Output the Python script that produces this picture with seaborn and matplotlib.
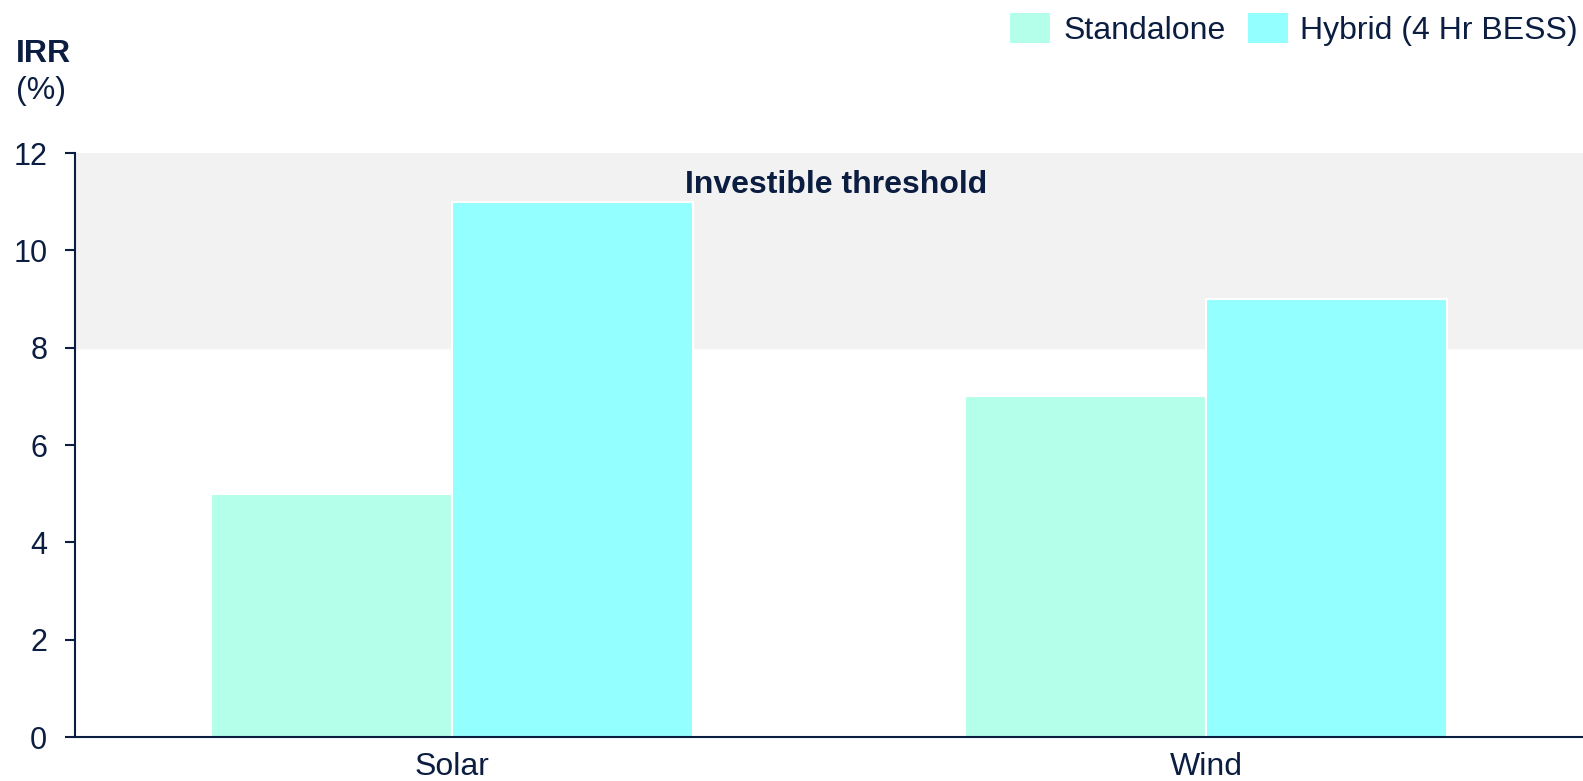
import matplotlib
matplotlib.use("Agg")
import matplotlib.pyplot as plt
import seaborn as sns
import pandas as pd
from matplotlib.patches import Patch

categories = ["Solar", "Wind"]
series = ["Standalone", "Hybrid (4 Hr BESS)"]
standalone = [5, 7]
hybrid = [11, 9]
threshold_low, threshold_high = 8, 12
yticks = [0, 2, 4, 6, 8, 10, 12]

colors = ["#b3ffe9", "#94ffff"]
navy = "#0b1d40"
fs = 23

df = pd.DataFrame({
    "Technology": categories * 2,
    "Scenario": [series[0]] * len(categories) + [series[1]] * len(categories),
    "IRR": standalone + hybrid,
})

sns.set_theme(style="white")
plt.rcParams["font.family"] = ["Liberation Sans", "DejaVu Sans"]

fig = plt.figure(figsize=(15.83, 7.81), dpi=100)
ax = fig.add_axes([0.0474, 0.0563, 0.9526, 0.7477])

ax.axhspan(threshold_low, threshold_high, color="#f2f2f2", zorder=0)
sns.barplot(data=df, x="Technology", y="IRR", hue="Scenario", palette=colors,
            width=0.64, edgecolor="white", linewidth=1.5, ax=ax, zorder=2,
            legend=False, saturation=1)

ax.set_xlim(-0.5, 1.5)
ax.set_ylim(0, 12)
ax.set_yticks(yticks)
ax.set_xlabel("")
ax.set_ylabel("")
for s in ["top", "right"]:
    ax.spines[s].set_visible(False)
for s in ["left", "bottom"]:
    ax.spines[s].set_color(navy)
    ax.spines[s].set_linewidth(1.5)
ax.tick_params(axis="y", length=7, width=1.5, color=navy, labelsize=22,
               labelcolor=navy, pad=13, left=True)
ax.tick_params(axis="x", length=0, labelsize=fs, labelcolor=navy, pad=11)

ax.text(0.51, 11.35, "Investible threshold", ha="center", va="center",
        fontsize=fs, fontweight="bold", color=navy, zorder=3)

fig.text(0.010, 0.950, "IRR", ha="left", va="top", fontsize=fs,
         fontweight="bold", color=navy)
fig.text(0.010, 0.903, "(%)", ha="left", va="top", fontsize=fs, color=navy)

handles = [Patch(facecolor=c, edgecolor="none") for c in colors]
fig.legend(handles, series, loc="upper right", bbox_to_anchor=(1.015, 1.02),
           frameon=False, fontsize=fs, ncol=2, handlelength=1.25,
           handleheight=1.05, handletextpad=0.4, columnspacing=0.7,
           labelcolor=navy)

fig.savefig("out.png", dpi=100)
